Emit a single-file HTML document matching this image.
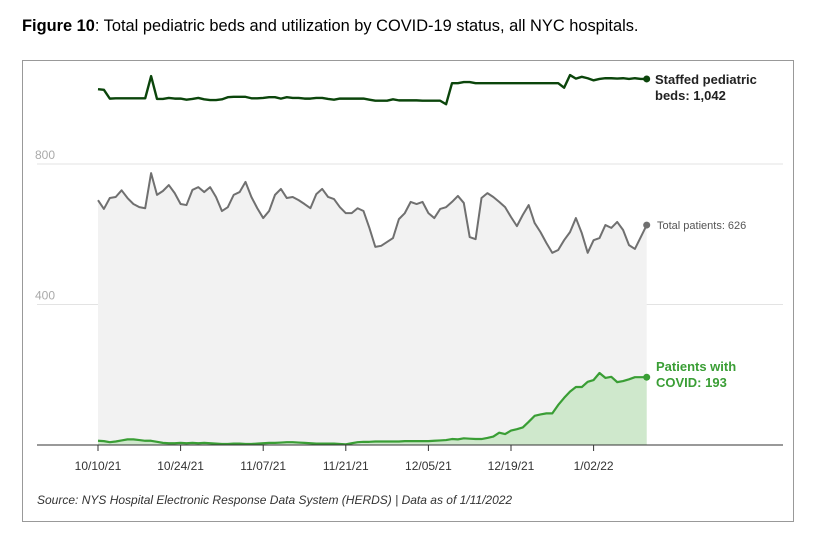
<!DOCTYPE html>
<html><head><meta charset="utf-8">
<style>
body{margin:0;background:#fff;width:817px;height:542px;overflow:hidden;font-family:"Liberation Sans",sans-serif;}
#title{position:absolute;left:22px;top:17px;font-size:16.4px;color:#000;white-space:nowrap;}
#frame{position:absolute;left:22px;top:60px;width:772px;height:462px;border:1px solid #999;box-sizing:border-box;}
svg{position:absolute;left:0;top:0;}
</style></head>
<body>
<div id="title"><b>Figure 10</b>: Total pediatric beds and utilization by COVID-19 status, all NYC hospitals.</div>
<div id="frame"></div>
<svg id="chart" width="817" height="542"></svg>
<script>
const dateLabels=["10/10/21","10/24/21","11/07/21","11/21/21","12/05/21","12/19/21","1/02/22"];
const dateTickDays=[0,14,28,42,56,70,84];
const yTicks=[400,800];
const staffedBeds=[1013,1011,986,987,987,987,987,987,987,1050,985,985,988,986,986,983,985,988,984,982,982,984,990,991,991,991,987,987,988,990,990,986,990,988,988,986,986,988,988,985,983,986,986,986,986,986,983,980,980,980,984,981,981,981,981,980,980,980,980,970,1030,1030,1033,1033,1030,1030,1030,1030,1030,1030,1030,1030,1030,1030,1030,1030,1030,1030,1030,1017,1053,1043,1048,1044,1038,1042,1044,1044,1043,1044,1042,1044,1042,1042];
const totalPatients=[697,672,703,706,725,703,686,677,674,774,712,723,740,717,686,683,726,734,720,734,706,666,677,712,720,749,706,674,646,666,712,729,703,706,697,686,674,714,729,706,700,677,660,660,674,666,618,564,567,578,589,643,660,692,686,692,660,646,672,677,692,709,689,592,586,703,717,706,692,677,649,623,655,683,632,606,575,547,555,583,606,646,603,547,583,589,626,618,635,612,569,558,592,626];
const covidPatients=[12,11,8,10,13,16,16,14,12,12,9,6,5,5,6,5,6,5,6,5,4,3,3,4,4,3,3,4,5,6,6,7,8,8,7,6,5,4,4,4,4,3,2,5,8,9,9,10,10,10,10,10,11,11,11,11,11,12,13,14,17,16,19,18,17,17,20,24,35,31,41,45,50,66,83,87,90,90,114,134,152,165,165,180,185,205,191,194,179,182,187,193,193,193];

const svg=document.getElementById('chart');
const NS='http://www.w3.org/2000/svg';
const x0=98,dx=5.9,yBase=445,ky=0.3513;
const X=d=>x0+d*dx, Y=v=>yBase-v*ky;
function mk(tag,attrs){const e=document.createElementNS(NS,tag);for(const k in attrs)e.setAttribute(k,attrs[k]);svg.appendChild(e);return e;}
function txt(s,attrs){const e=mk('text',attrs);e.textContent=s;return e;}

yTicks.forEach(v=>{
  const g=mk('line',{x1:37,x2:783,y1:Y(v),y2:Y(v),stroke:'#e3e3e3','stroke-width':1});
  
  
  const t=txt(String(v),{x:35,y:Y(v)-5,'font-size':12,fill:'#aaa'});
  
  
});
function area(arr,fill,name){
  let d='M'+X(0)+','+yBase;
  arr.forEach((v,i)=>d+=' L'+X(i)+','+Y(v));
  d+=' L'+X(arr.length-1)+','+yBase+' Z';
  const p=mk('path',{d:d,fill:fill});
  
  
}
function line(arr,stroke,w,name){
  const pts=arr.map((v,i)=>X(i)+','+Y(v)).join(' ');
  const p=mk('polyline',{points:pts,fill:'none',stroke:stroke,'stroke-width':w,'stroke-linejoin':'round'});
  
  
  const n=arr.length-1;
  const c=mk('circle',{cx:X(n),cy:Y(arr[n]),r:3.5,fill:stroke});
  
  
}
area(totalPatients,'#f2f2f2','total-patients-area');
area(covidPatients,'#cfe8cc','covid-patients-area');
line(totalPatients,'#707070',2,'total-patients-line');
line(covidPatients,'#3a9e35',2.2,'covid-patients-line');
line(staffedBeds,'#0b450b',2.4,'staffed-beds-line');

const ax=mk('line',{x1:37,x2:783,y1:yBase,y2:yBase,stroke:'#333','stroke-width':1});


dateTickDays.forEach((d,i)=>{
  const tk=mk('line',{x1:X(d),x2:X(d),y1:yBase,y2:yBase+6,stroke:'#333','stroke-width':1});
  
  
  const t=txt(dateLabels[i],{x:X(d),y:470,'font-size':12,fill:'#333','text-anchor':'middle'});
  
  
});
const nEnd=staffedBeds.length-1;
const l1=txt('Staffed pediatric',{x:655,y:Y(staffedBeds[nEnd])+5,'font-size':13,'font-weight':'bold',fill:'#222'});


const l1b=txt('beds: 1,042',{x:655,y:Y(staffedBeds[nEnd])+21,'font-size':13,'font-weight':'bold',fill:'#222'});


const l2=txt('Total patients: 626',{x:657,y:Y(totalPatients[nEnd])+4,'font-size':11,fill:'#555'});


const l3=txt('Patients with',{x:656,y:Y(covidPatients[nEnd])-6,'font-size':13,'font-weight':'bold',fill:'#3a9e35'});


const l3b=txt('COVID: 193',{x:656,y:Y(covidPatients[nEnd])+10,'font-size':13,'font-weight':'bold',fill:'#3a9e35'});


const src=txt('Source: NYS Hospital Electronic Response Data System (HERDS) | Data as of 1/11/2022',{x:37,y:504,'font-size':12,'font-style':'italic',fill:'#333'});


</script>
</body></html>
